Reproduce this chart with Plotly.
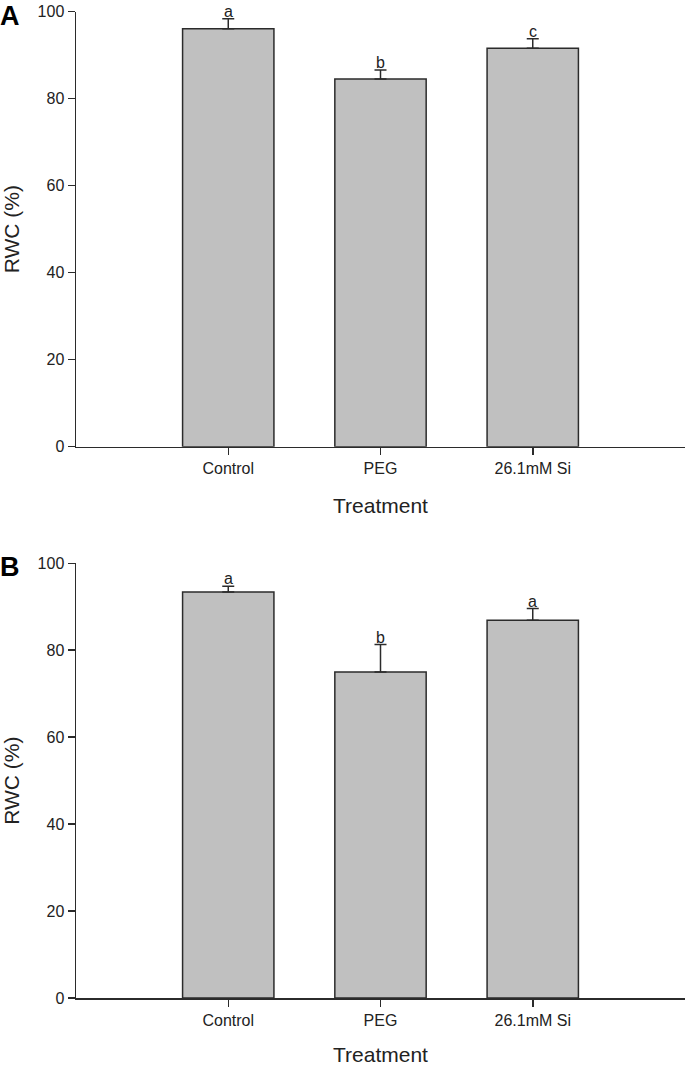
import plotly.graph_objects as go

categories = ["Control", "PEG", "26.1mM Si"]
rwc_a = [96.1, 84.5, 91.6]
err_a = [2.3, 2.1, 2.2]
letters_a = ["a", "b", "c"]
rwc_b = [93.4, 75.0, 86.9]
err_b = [1.3, 6.3, 2.7]
letters_b = ["a", "b", "a"]
y_ticks = [0, 20, 40, 60, 80, 100]

W, H = 685, 1066
FONT = "Liberation Sans, Arial, sans-serif"
LINE = "#2b2b2b"

fig = go.Figure()

panels = [
    (rwc_a, err_a, letters_a, "x", "y", 11.7, 446.7),
    (rwc_b, err_b, letters_b, "x2", "y2", 563.3, 998.0),
]

x_dom = [76 / W, 1.0]
annotations = []
shapes = []
for vals, errs, lets, xa, ya, top_px, bot_px in panels:
    fig.add_trace(go.Bar(
        x=categories, y=vals, xaxis=xa, yaxis=ya,
        width=0.6,
        marker=dict(color="#c0c0c0", line=dict(color=LINE, width=1.5)),
        error_y=dict(type="data", array=errs, symmetric=False, arrayminus=[0, 0, 0],
                     color=LINE, thickness=1.5, width=6),
        showlegend=False, hoverinfo="skip",
    ))
    for c, v, e, t in zip(categories, vals, errs, lets):
        annotations.append(dict(x=c, y=v + e, xref=xa, yref=ya, text=t,
                                showarrow=False, yanchor="bottom", yshift=-3,
                                font=dict(family=FONT, size=16, color="#222")))
    ydom = [1 - bot_px / H, 1 - top_px / H]
    axn = "" if xa == "x" else "2"
    fig.layout["xaxis" + axn] = dict(
        domain=x_dom, range=[-1, 3], anchor=ya, showline=True, linecolor=LINE,
        linewidth=1.5, ticks="outside", ticklen=7, tickcolor=LINE, tickwidth=1.5,
        tickfont=dict(family=FONT, size=16, color="#222"),
        title=dict(text="Treatment", font=dict(family=FONT, size=21, color="#222"),
                   standoff=22),
        showgrid=False, zeroline=False, fixedrange=True, automargin=False,
    )
    fig.layout["yaxis" + axn] = dict(
        domain=ydom, range=[0, 100], anchor=xa, showline=True, linecolor=LINE,
        linewidth=1.5, ticks="outside", ticklen=7, tickcolor=LINE, tickwidth=1.5,
        tickvals=y_ticks, tickfont=dict(family=FONT, size=16, color="#222"),
        title=dict(text="RWC (%)", font=dict(family=FONT, size=21, color="#222"),
                   standoff=12),
        showgrid=False, zeroline=False, fixedrange=True, automargin=False,
    )
    shapes.append(dict(type="line", xref="paper", yref=ya, x0=69 / W,
                       x1=76 / W, y0=0, y1=0,
                       line=dict(color=LINE, width=1.5)))

fig.update_layout(
    width=W, height=H, margin=dict(l=0, r=0, t=0, b=0),
    plot_bgcolor="white", paper_bgcolor="white",
    annotations=annotations, shapes=shapes, bargap=0.4,
)

for lab, cy in (("A", 16), ("B", 567)):
    fig.add_annotation(x=0.0, y=1 - cy / H, xref="paper", yref="paper",
                       text="<b>" + lab + "</b>", showarrow=False,
                       xanchor="left", yanchor="middle", xshift=-2,
                       font=dict(family=FONT, size=27, color="#000"))

fig.write_html("out.html",
               config={"displayModeBar": False, "staticPlot": True},
               post_script="document.body.style.margin='0';"
                           "document.body.style.overflow='hidden';")
